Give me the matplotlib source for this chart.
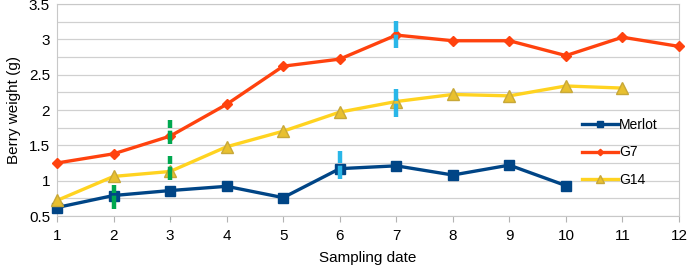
import numpy as np
import matplotlib.pyplot as plt

dates = [1, 2, 3, 4, 5, 6, 7, 8, 9, 10, 11, 12]
merlot = [0.62, 0.79, 0.86, 0.92, 0.76, 1.17, 1.21, 1.08, 1.22, 0.93]
g7 = [1.25, 1.38, 1.63, 2.08, 2.62, 2.72, 3.06, 2.98, 2.98, 2.77, 3.03, 2.90]
g14 = [0.72, 1.06, 1.13, 1.48, 1.70, 1.97, 2.12, 2.22, 2.20, 2.34, 2.31]

# significance marks: date, low, high, colour
sig_x = [2, 3, 3, 6, 7, 7]
sig_lo = [0.60, 1.01, 1.52, 1.02, 1.90, 2.88]
sig_hi = [0.94, 1.35, 1.86, 1.42, 2.30, 3.26]
sig_col = ['#00a850', '#00a850', '#00a850', '#29b6e8', '#29b6e8', '#29b6e8']

plt.rcParams['font.family'] = ['Liberation Sans', 'DejaVu Sans']

fig = plt.figure(figsize=(6.88, 2.66), dpi=100)
ax = fig.add_axes([57 / 688, 50 / 266, 622 / 688, 212 / 266])

ax.set_xlim(1, 12)
ax.set_ylim(0.5, 3.5)
ax.set_yticks(np.arange(0.5, 3.51, 0.5))
ax.set_yticklabels(['0.5', '1', '1.5', '2', '2.5', '3', '3.5'])
ax.set_yticks(np.arange(0.75, 3.5, 0.5), minor=True)
ax.set_xticks(dates)
ax.grid(True, which='both', axis='y', color='#d0d0d0', linewidth=0.9)
ax.set_axisbelow(True)
ax.tick_params(axis='y', which='both', length=0, labelsize=11, pad=5)
ax.tick_params(axis='x', length=4, color='#b3b3b3', labelsize=11, pad=5)
for s in ax.spines.values():
    s.set_color('#c8c8c8')

ax.plot(dates[:len(merlot)], merlot, color='#004586', lw=2.4, marker='s',
        ms=7, label='Merlot', clip_on=False, zorder=3)
ax.plot(dates[:len(g7)], g7, color='#ff420e', lw=2.4, marker='D',
        ms=5, label='G7', clip_on=False, zorder=3)
ax.plot(dates[:len(g14)], g14, color='#ffd320', lw=2.4, marker='^',
        ms=8, mfc='#e8c030', mec='#c8a838', label='G14', clip_on=False, zorder=3)

for x, lo, hi, c in zip(sig_x, sig_lo, sig_hi, sig_col):
    ax.plot([x, x], [lo, hi], color=c, lw=3.2, ls=(0, (3, 0.6)), zorder=4)

ax.set_ylabel('Berry weight (g)', fontsize=11, labelpad=6)
ax.set_xlabel('Sampling date', fontsize=11, labelpad=6)

ax.legend(loc='center right', bbox_to_anchor=(0.975, 0.3), frameon=False,
          fontsize=10, handlelength=2.6, handletextpad=0.1, labelspacing=0.95,
          markerscale=0.65, borderaxespad=0)

fig.savefig('out.png', dpi=100)
